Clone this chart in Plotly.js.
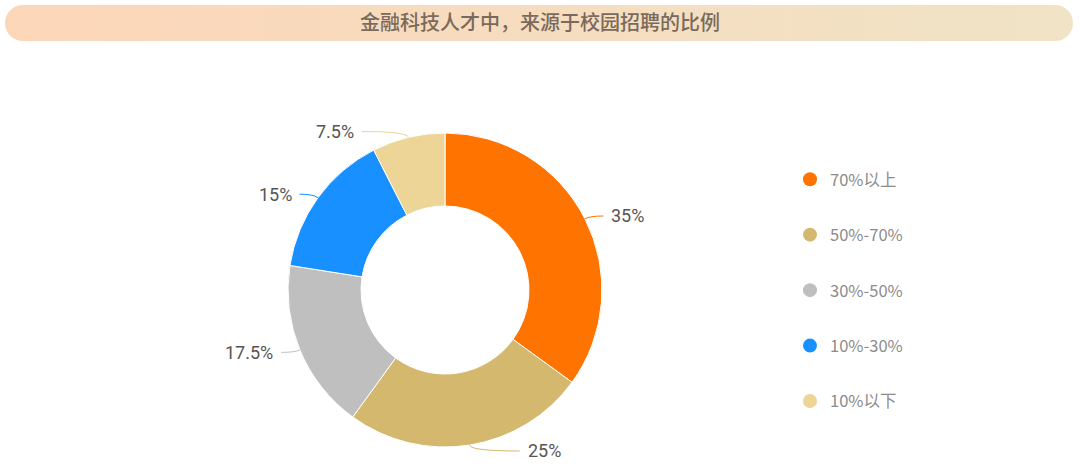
<!DOCTYPE html>
<html>
<head>
<meta charset="utf-8">
<script src="https://cdn.plot.ly/plotly-3.0.1.min.js"></script>
<style>
    body { margin: 0; background: #fff; }
    #wrap { position: relative; width: 1080px; height: 466px; }
    #bar {
        position: absolute; left: 5px; top: 5px; width: 1068px; height: 36px;
        border-radius: 18px;
        background: linear-gradient(to right, #fdd6b9, #f0e3c6);
    }
    #chart { position: absolute; left: 0; top: 0; width: 1080px; height: 466px; }
</style>
</head>
<body>
<div id="wrap">
    <div id="bar"></div>
    <div id="chart"></div>
</div>
<script>
var categories = ['70%以上', '50%-70%', '30%-50%', '10%-30%', '10%以下'];
var shares = [35, 25, 17.5, 15, 7.5];
var labels = ['35%', '25%', '17.5%', '15%', '7.5%'];
var colors = ['#ff7300', '#d4b86d', '#bfbfbf', '#1890ff', '#edd597'];

var W = 1080, H = 466;
var cx = 445, cy = 290, R = 157;

function px(x) { return x / W; }
function py(y) { return 1 - y / H; }

var total = shares.reduce(function (a, b) { return a + b; }, 0);

var data = [{
    type: 'pie',
    values: shares,
    labels: categories,
    sort: false,
    direction: 'clockwise',
    rotation: 0,
    hole: 0.535,
    textinfo: 'none',
    hoverinfo: 'label+percent',
    showlegend: false,
    marker: { colors: colors, line: { color: '#ffffff', width: 1 } },
    domain: { x: [px(cx - R), px(cx + R)], y: [py(cy + R), py(cy - R)] }
}];

// legend entries drawn as round markers
categories.forEach(function (c, i) {
    data.push({
        type: 'scatter',
        x: [null], y: [null],
        mode: 'markers',
        name: c,
        legendgroup: 'g' + i,
        marker: { color: colors[i], size: 14, symbol: 'circle' },
        hoverinfo: 'skip'
    });
});

// leader lines + labels, placed from slice mid angles
var shapes = [];
var annotations = [];
var acc = 0;
shares.forEach(function (v, i) {
    var mid = (acc + v / 2) / total * 2 * Math.PI;
    acc += v;
    var dx = Math.sin(mid), dy = -Math.cos(mid);
    var x1 = cx + R * dx, y1 = cy + R * dy;
    var x2 = cx + (R + 6) * dx, y2 = cy + (R + 6) * dy;
    var side = dx >= 0 ? 1 : -1;
    // slices near the top/bottom get a longer horizontal run
    var run = 13 + 40 * Math.pow(Math.abs(dy), 8);
    var x3 = x2 + side * run, y3 = y2;
    shapes.push({
        type: 'path', xref: 'paper', yref: 'paper',
        path: 'M' + px(x1) + ',' + py(y1) + ' Q' + px(x2) + ',' + py(y2) + ' ' + px(x3) + ',' + py(y3),
        line: { color: colors[i], width: 1 }
    });
    annotations.push({
        xref: 'paper', yref: 'paper',
        x: px(x3 + side * 6), y: py(y3),
        xanchor: side > 0 ? 'left' : 'right', yanchor: 'middle',
        text: labels[i], showarrow: false,
        font: { size: 18, color: '#555555', family: 'Roboto, "Noto Sans", sans-serif' }
    });
});

var layout = {
    width: W,
    height: H,
    margin: { l: 0, r: 0, t: 0, b: 0 },
    paper_bgcolor: 'rgba(0,0,0,0)',
    plot_bgcolor: 'rgba(0,0,0,0)',
    title: {
        text: '金融科技人才中，来源于校园招聘的比例',
        x: 0.5, y: 1 - 23 / H, xanchor: 'center', yanchor: 'middle',
        font: { size: 20, weight: 500, color: '#7a6a5c', family: '"Noto Sans CJK SC", sans-serif' }
    },
    xaxis: { visible: false },
    yaxis: { visible: false },
    showlegend: true,
    legend: {
        x: 790 / W, y: py(162), xanchor: 'left', yanchor: 'top',
        tracegroupgap: 31,
        itemwidth: 30,
        font: { size: 16.5, color: '#8c8c8c', family: '"Noto Sans CJK SC", sans-serif' }
    },
    shapes: shapes,
    annotations: annotations
};

Plotly.newPlot('chart', data, layout, { displayModeBar: false });
</script>
</body>
</html>
